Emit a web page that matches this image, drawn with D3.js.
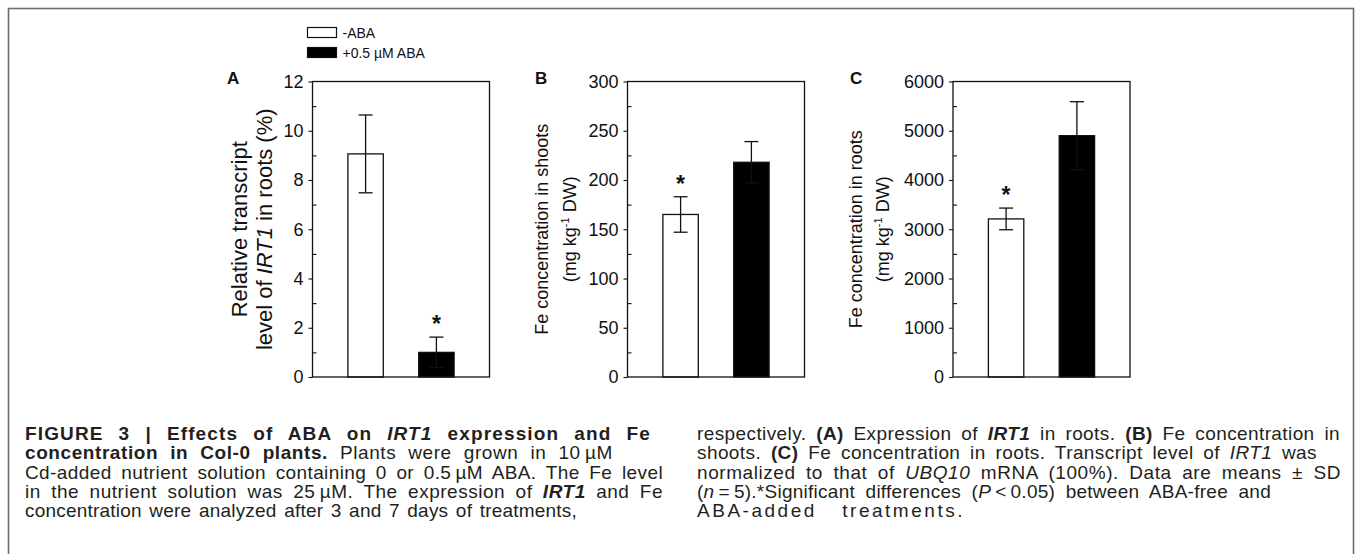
<!DOCTYPE html>
<meta charset="utf-8">
<style>
body { margin: 0; background: #fff; }
svg { display: block; }
.chart text { font-family: Arial, "Liberation Sans", Helvetica, sans-serif; fill: #111; }
.axis path { display: none; }
.axis line { stroke: #111; stroke-width: 1.1px; }
.axis text { font-size: 18px; fill: #111; font-family: Arial, "Liberation Sans", sans-serif; }
.caption { font-family: Arial, "Liberation Sans", sans-serif; font-size: 19px; fill: #231f20; }
</style>
<svg width="1357" height="554"></svg>
<script src="https://d3js.org/d3.v7.min.js"></script>
<script>

// treatments (legend + bars)
var groups = ["-ABA", "+0.5 µM ABA"];
var fills = ["#fff", "#000"];

// panel A: relative IRT1 transcript (%)
var irtMean = [9.06, 1.0];
var irtSd = [1.58, 0.62];
var irtStar = [false, true];

// panel B: Fe in shoots (mg/kg DW)
var shootMean = [165, 218];
var shootSd = [18, 21];
var shootStar = [true, false];

// panel C: Fe in roots (mg/kg DW)
var rootMean = [3210, 4900];
var rootSd = [220, 690];
var rootStar = [true, false];

var letters = ["A", "B", "C"];
var yMax = [12, 300, 6000];
var yStep = [2, 50, 1000];

var captionLeft = [
  [["b", "FIGURE 3 | Effects of ABA on "], ["bi", "IRT1"], ["b", " expression and Fe"]],
  [["b", "concentration in Col-0 plants."], ["", " Plants were grown in 10\u2009µM"]],
  [["", "Cd-added nutrient solution containing 0 or 0.5\u2009µM ABA. The Fe level"]],
  [["", "in the nutrient solution was 25\u2009µM. The expression of "], ["bi", "IRT1"], ["", " and Fe"]],
  [["", "concentration were analyzed after 3 and 7 days of treatments,"]]
];
var captionRight = [
  [["", "respectively. "], ["b", "(A)"], ["", " Expression of "], ["bi", "IRT1"], ["", " in roots. "], ["b", "(B)"], ["", " Fe concentration in"]],
  [["", "shoots. "], ["b", "(C)"], ["", " Fe concentration in roots. Transcript level of "], ["i", "IRT1"], ["", " was"]],
  [["", "normalized to that of "], ["i", "UBQ10"], ["", " mRNA (100%). Data are means \u00b1 SD"]],
  [["", "("], ["i", "n"], ["", "\u2009=\u20095).*Significant differences ("], ["i", "P"], ["", "\u2009<\u20090.05) between ABA-free and"]],
  [["", "ABA-added treatments."]]
];

var svg = d3.select("svg");

// outer frame
svg.append("rect")
    .attr("x", 8.5).attr("y", 8.5)
    .attr("width", 1345).attr("height", 600)
    .attr("fill", "none")
    .attr("stroke", "#6b6b6b")
    .attr("stroke-width", 1.6);

var chart = svg.append("g").attr("class", "chart");

var panels = [
  { mean: irtMean, sd: irtSd, star: irtStar, x0: 312.5, titleX: [-73, -48], titleSize: 22 },
  { mean: shootMean, sd: shootSd, star: shootStar, x0: 627.5, titleX: [-85, -57], titleSize: 18 },
  { mean: rootMean, sd: rootSd, star: rootStar, x0: 953, titleX: [-97, -70], titleSize: 18 }
];

var plotTop = 81.5, plotBottom = 377, w = 177, h = plotBottom - plotTop;

panels.forEach(function(p, k) {
  var g = chart.append("g").attr("transform", "translate(" + p.x0 + "," + plotTop + ")");

  var x = d3.scaleBand().domain(groups).range([0, w]).paddingInner(0.5).paddingOuter(0.5);
  var y = d3.scaleLinear().domain([0, yMax[k]]).range([h, 0]);

  var major = d3.range(0, yMax[k] + yStep[k] / 2, yStep[k]);
  var minor = d3.range(yStep[k] / 2, yMax[k], yStep[k]);

  g.append("g").attr("class", "axis")
      .call(d3.axisLeft(y).tickValues(major).tickSize(4).tickPadding(5).tickFormat(d3.format("d")));
  g.append("g").attr("class", "axis")
      .call(d3.axisLeft(y).tickValues(minor).tickSize(-4).tickFormat(""));

  // bars
  g.selectAll("rect.bar")
    .data(groups)
    .enter().append("rect")
      .attr("class", "bar")
      .attr("x", function(d) { return x(d); })
      .attr("width", x.bandwidth())
      .attr("y", function(d, i) { return y(p.mean[i]); })
      .attr("height", function(d, i) { return h - y(p.mean[i]); })
      .attr("fill", function(d, i) { return fills[i]; })
      .attr("stroke", "#111")
      .attr("stroke-width", 1.3);

  // error bars
  var cap = 7;
  groups.forEach(function(d, i) {
    var cx = x(d) + x.bandwidth() / 2,
        hi = y(p.mean[i] + p.sd[i]),
        lo = y(p.mean[i] - p.sd[i]);
    g.append("line").attr("x1", cx).attr("x2", cx).attr("y1", hi).attr("y2", lo)
        .attr("stroke", "#111").attr("stroke-width", 1.3);
    [hi, lo].forEach(function(v) {
      g.append("line").attr("x1", cx - cap).attr("x2", cx + cap).attr("y1", v).attr("y2", v)
          .attr("stroke", "#111").attr("stroke-width", 1.3);
    });
    if (p.star[i]) {
      g.append("text")
          .attr("x", cx).attr("y", hi - 18 + 13)
          .attr("text-anchor", "middle")
          .style("font-size", "23px")
          .style("font-weight", "bold")
          .text("*");
    }
  });

  // frame
  g.append("rect").attr("width", w).attr("height", h)
      .attr("fill", "none").attr("stroke", "#111").attr("stroke-width", 1.3);

  // panel letter
  g.append("text").attr("x", [227, 535, 850][k] - p.x0).attr("y", 2)
      .style("font-size", "17px").style("font-weight", "bold")
      .text(letters[k]);

  // y titles
  var fs = p.titleSize, mid = h / 2;
  var t1 = g.append("text")
      .attr("transform", "translate(" + (p.titleX[0] + fs * 0.33) + "," + mid + ") rotate(-90)")
      .attr("text-anchor", "middle")
      .style("font-size", fs + "px");
  var t2 = g.append("text")
      .attr("transform", "translate(" + (p.titleX[1] + fs * 0.33) + "," + mid + ") rotate(-90)")
      .attr("text-anchor", "middle")
      .style("font-size", fs + "px");
  if (k === 0) {
    t1.text("Relative transcript");
    t2.append("tspan").text("level of ");
    t2.append("tspan").style("font-style", "italic").text("IRT1");
    t2.append("tspan").text(" in roots (%)");
  } else {
    t1.text("Fe concentration in " + (k === 1 ? "shoots" : "roots"));
    t2.append("tspan").text("(mg kg");
    t2.append("tspan").attr("dy", -7).style("font-size", "11px").text("-1");
    t2.append("tspan").attr("dy", 7).text(" DW)");
  }
});

// legend
var leg = chart.append("g").attr("transform", "translate(307.5,27.5)");
groups.forEach(function(d, i) {
  leg.append("rect").attr("x", 0).attr("y", i * 20).attr("width", 29).attr("height", 10)
      .attr("fill", fills[i]).attr("stroke", "#111").attr("stroke-width", 1.2);
  leg.append("text").attr("x", 35).attr("y", i * 20 + 10)
      .style("font-size", "14px").text(d);
});

// caption, justified: a little letter spacing, the rest in word spaces
function writeLines(lines, x0, ends) {
  lines.forEach(function(segs, j) {
    var t = svg.append("text").attr("class", "caption")
        .attr("x", x0).attr("y", 440 + j * 19.3)
        .style("white-space", "pre");
    var spaces = 0, chars = 0;
    segs.forEach(function(s) {
      var ts = t.append("tspan").text(s[1]);
      if (s[0].indexOf("b") >= 0) ts.style("font-weight", "bold");
      if (s[0].indexOf("i") >= 0) ts.style("font-style", "italic");
      spaces += (s[1].match(/ /g) || []).length;
      chars += s[1].length;
    });
    var extra = ends[j] - x0 - t.node().getComputedTextLength();
    var ls = Math.max(-0.3, Math.min(extra * (spaces < 3 ? 0.75 : 0.4) / chars, 3));
    var rest = extra - ls * chars;
    t.style("letter-spacing", ls + "px");
    if (spaces > 0) t.style("word-spacing", (rest / spaces) + "px");
  });
}
writeLines(captionLeft, 25, [651, 613, 663, 663, 577]);
writeLines(captionRight, 697, [1340, 1317, 1341, 1271, 965]);

</script>
